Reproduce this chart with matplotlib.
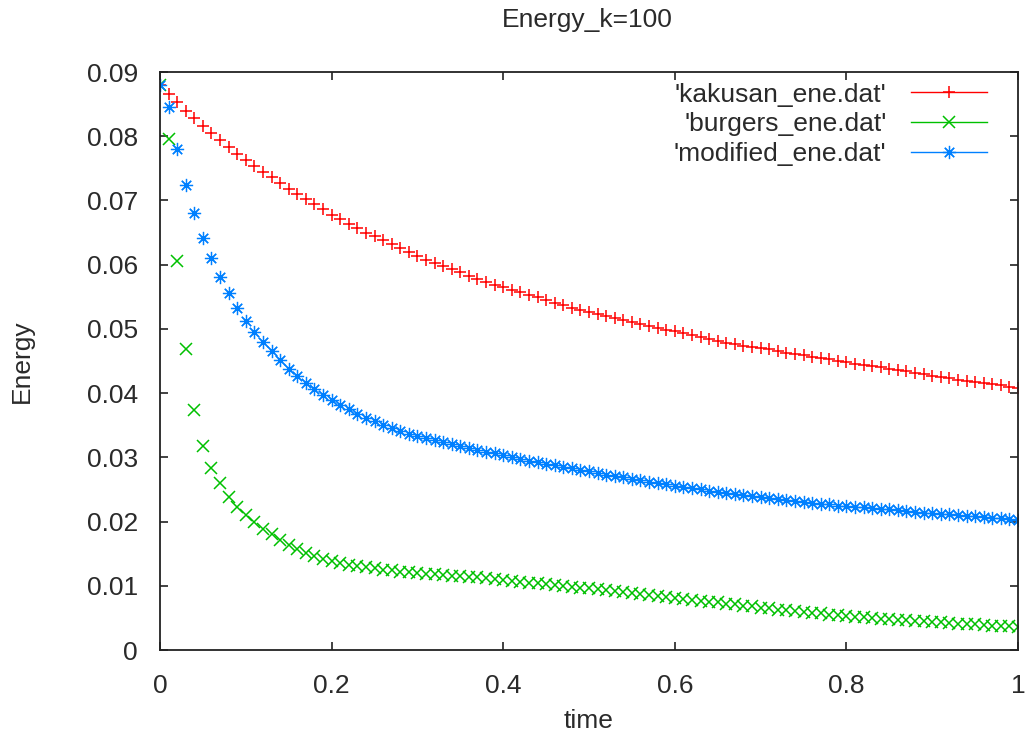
import numpy as np
import matplotlib
matplotlib.use("Agg")
import matplotlib.pyplot as plt
from matplotlib.lines import Line2D

plt.rcParams['font.family'] = ['Liberation Sans', 'DejaVu Sans']

# time grid of the .dat files (dt = 0.01)
time = np.linspace(0.0, 1.0, 101)

kakusan = [
    0.0880, 0.0866, 0.0853, 0.0840, 0.0828, 0.0816, 0.0805, 0.0794, 0.0783, 0.0773,
    0.0763, 0.0754, 0.0745, 0.0736, 0.0727, 0.0718, 0.0710, 0.0702, 0.0694, 0.0686,
    0.0678, 0.0671, 0.0664, 0.0657, 0.0650, 0.0644, 0.0638, 0.0632, 0.0626, 0.0620,
    0.0614, 0.0608, 0.0603, 0.0598, 0.0593, 0.0588, 0.0583, 0.0578, 0.0573, 0.0569,
    0.0565, 0.0561, 0.0557, 0.0553, 0.0549, 0.0545, 0.0541, 0.0537, 0.0533, 0.0530,
    0.0527, 0.0523, 0.0520, 0.0517, 0.0514, 0.0511, 0.0508, 0.0505, 0.0502, 0.0499,
    0.0496, 0.0493, 0.0490, 0.0487, 0.0484, 0.0481, 0.0478, 0.0476, 0.0474, 0.0472,
    0.0470, 0.0468, 0.0465, 0.0463, 0.0461, 0.0459, 0.0457, 0.0455, 0.0453, 0.0450,
    0.0448, 0.0446, 0.0444, 0.0442, 0.0440, 0.0438, 0.0436, 0.0434, 0.0432, 0.0429,
    0.0427, 0.0425, 0.0423, 0.0421, 0.0419, 0.0417, 0.0415, 0.0414, 0.0412, 0.0410,
    0.0408]

burgers = [
    0.0880, 0.0795, 0.0605, 0.0468, 0.0373, 0.0318, 0.0284, 0.0260, 0.0239, 0.0223,
    0.0210, 0.0199, 0.0189, 0.0180, 0.0171, 0.0163, 0.0157, 0.0151, 0.0146, 0.0142,
    0.0138, 0.0135, 0.0133, 0.0131, 0.0129, 0.0127, 0.0125, 0.0124, 0.0122, 0.0121,
    0.0120, 0.0119, 0.0118, 0.0117, 0.0116, 0.0115, 0.0114, 0.0113, 0.0112, 0.0110,
    0.0109, 0.0108, 0.0106, 0.0105, 0.0104, 0.0102, 0.0101, 0.0100, 0.0098, 0.0097,
    0.0096, 0.0095, 0.0093, 0.0092, 0.0090, 0.0089, 0.0087, 0.0086, 0.0084, 0.0083,
    0.0081, 0.0080, 0.0078, 0.0077, 0.0075, 0.0074, 0.0072, 0.0071, 0.0069, 0.0068,
    0.0066, 0.0065, 0.0063, 0.0062, 0.0061, 0.0059, 0.0058, 0.0057, 0.0055, 0.0054,
    0.0053, 0.0052, 0.0051, 0.0050, 0.0049, 0.0048, 0.0047, 0.0046, 0.0045, 0.0045,
    0.0044, 0.0043, 0.0042, 0.0041, 0.0041, 0.0040, 0.0039, 0.0038, 0.0037, 0.0037,
    0.0036]

modified = [
    0.0880, 0.0845, 0.0780, 0.0724, 0.0680, 0.0642, 0.0610, 0.0581, 0.0556, 0.0533,
    0.0513, 0.0495, 0.0480, 0.0465, 0.0451, 0.0438, 0.0427, 0.0416, 0.0406, 0.0397,
    0.0389, 0.0382, 0.0375, 0.0368, 0.0362, 0.0357, 0.0351, 0.0346, 0.0341, 0.0337,
    0.0333, 0.0330, 0.0327, 0.0324, 0.0321, 0.0318, 0.0315, 0.0312, 0.0309, 0.0306,
    0.0304, 0.0301, 0.0298, 0.0295, 0.0293, 0.0290, 0.0288, 0.0285, 0.0283, 0.0280,
    0.0278, 0.0276, 0.0273, 0.0271, 0.0269, 0.0267, 0.0265, 0.0262, 0.0260, 0.0258,
    0.0256, 0.0254, 0.0252, 0.0250, 0.0248, 0.0246, 0.0245, 0.0243, 0.0241, 0.0240,
    0.0238, 0.0236, 0.0235, 0.0233, 0.0232, 0.0231, 0.0229, 0.0228, 0.0227, 0.0225,
    0.0224, 0.0223, 0.0222, 0.0221, 0.0220, 0.0219, 0.0218, 0.0217, 0.0215, 0.0214,
    0.0213, 0.0212, 0.0211, 0.0210, 0.0209, 0.0208, 0.0207, 0.0206, 0.0205, 0.0204,
    0.0203]

labels = ["'kakusan_ene.dat'", "'burgers_ene.dat'", "'modified_ene.dat'"]
colors = ['#ff0000', '#00c000', '#0080ff']
markers = ['+', 'x', (8, 2, 0)]
xticks = [0, 0.2, 0.4, 0.6, 0.8, 1]
yticks = [0, 0.01, 0.02, 0.03, 0.04, 0.05, 0.06, 0.07, 0.08, 0.09]

fs = 19
txtcol = '#2a2a2a'

fig = plt.figure(figsize=(10.27, 7.35), dpi=100)
ax = fig.add_axes([160/1027, 85/735, 858/1027, 578/735])

handles = []
for ys, lab, c, m in zip([kakusan, burgers, modified], labels, colors, markers):
    ms = 9.5 if m == markers[2] else 8
    mw = 0.9 if m == markers[2] else 1.1
    ax.plot(time, ys, color=c, ls='none', marker=m, ms=ms, mew=mw)
    handles.append(Line2D([], [], color=c, lw=1.0, marker=m, ms=ms, mew=mw, label=lab))

ax.set_xlim(0, 1)
ax.set_ylim(0, 0.09)
ax.set_xticks(xticks)
ax.set_xticklabels(['0', '0.2', '0.4', '0.6', '0.8', '1'])
ax.set_yticks(yticks)
ax.set_yticklabels(['0', '0.01', '0.02', '0.03', '0.04', '0.05', '0.06', '0.07', '0.08', '0.09'])
ax.tick_params(direction='in', length=6, width=1.2, top=True, right=True,
               labelsize=fs, labelcolor=txtcol, color='#222222')
ax.tick_params(axis='y', pad=16)
ax.tick_params(axis='x', pad=17)
for s in ax.spines.values():
    s.set_linewidth(1.3)
    s.set_color('#222222')

leg = ax.legend(handles=handles, loc='upper right', bbox_to_anchor=(0.9635, 0.9815),
                frameon=False, markerfirst=False, numpoints=1, handlelength=2.85,
                handletextpad=0.95, labelspacing=0.22, borderpad=0, borderaxespad=0,
                fontsize=fs)
for t in leg.get_texts():
    t.set_color(txtcol)

fig.text(587/1027, 1 - 20/735, 'Energy_k=100', ha='center', va='center', fontsize=fs, color=txtcol)
fig.text(589/1027, 1 - 721/735, 'time', ha='center', va='center', fontsize=fs, color=txtcol)
fig.text(22/1027, 1 - 361/735, 'Energy', ha='center', va='center', rotation=90, fontsize=fs, color=txtcol)

fig.savefig('out.png', dpi=100)
